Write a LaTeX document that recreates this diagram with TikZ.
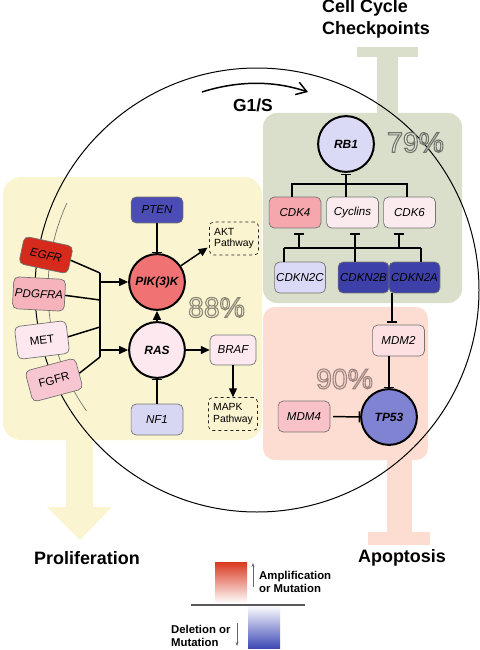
\documentclass[tikz,border=0pt]{standalone}
\usepackage{fontspec}
\setmainfont{Liberation Sans}
\usetikzlibrary{arrows.meta,calc}
\definecolor{cYel}{HTML}{FAF5D0}
\definecolor{cGrn}{HTML}{D9DFCB}
\definecolor{cPnk}{HTML}{FDDDD1}
\definecolor{cEGFR}{HTML}{D52A1C}
\definecolor{cPDGFRA}{HTML}{F6B3BC}
\definecolor{cMET}{HTML}{FCE8EE}
\definecolor{cFGFR}{HTML}{F8C6D0}
\definecolor{cPTEN}{HTML}{4B4DB4}
\definecolor{cPIK}{HTML}{F07272}
\definecolor{cRAS}{HTML}{FCE8EE}
\definecolor{cBRAF}{HTML}{FCE8EE}
\definecolor{cNF}{HTML}{D7D6F3}
\definecolor{cRB}{HTML}{DADAF7}
\definecolor{cCDKf}{HTML}{F6A7AE}
\definecolor{cCyc}{HTML}{FCEBEE}
\definecolor{cCDKs}{HTML}{FCEBEE}
\definecolor{cNtwoC}{HTML}{DADAF7}
\definecolor{cNtwoB}{HTML}{3E40A9}
\definecolor{cMDMtwo}{HTML}{FCE0E2}
\definecolor{cMDMfour}{HTML}{F8C2C8}
\definecolor{cTP}{HTML}{8082D2}
\definecolor{cLegR}{HTML}{D9381E}
\definecolor{cLegB}{HTML}{3F4BB5}
\definecolor{cInA}{HTML}{E6EADC}
\definecolor{cInB}{HTML}{F6F2DC}
\definecolor{cInC}{HTML}{F4D8D0}
% outlined text: #1 stroke colour (rgb numbers), #2 text
\newcommand{\outlinedtext}[2]{\special{pdf:literal direct 2 Tr 1.1 w #1 RG}#2\special{pdf:literal direct 0 Tr}}
\begin{document}
\begin{tikzpicture}[x=1bp,y=-1bp,
  gbox/.style={draw=black!55, line width=0.7pt, rounded corners=5pt, minimum width=52pt, minimum height=31pt, inner sep=0pt, font=\fontsize{11.6}{12}\selectfont\itshape},
  ubox/.style={gbox, font=\fontsize{11.6}{12}\selectfont},
  circ/.style={circle, draw=black, line width=2pt, minimum size=56pt, inner sep=0pt, font=\fontsize{12}{12}\selectfont\bfseries\itshape},
  pathbox/.style={draw=black!85, dashed, line width=0.7pt, rounded corners=4pt, minimum width=49pt, minimum height=33pt, inner sep=2pt, align=left, font=\fontsize{10.4}{12}\selectfont},
  title/.style={font=\fontsize{18}{22}\selectfont\bfseries, inner sep=0pt, align=left},
  legtext/.style={font=\fontsize{11.4}{13}\selectfont\bfseries, inner sep=0pt, align=left},
  pctstyle/.style={font=\fontsize{28.5}{30}\selectfont, inner sep=0pt},
  con/.style={line width=1.5pt},
  act/.style={con, -{Triangle[length=9pt,width=8pt]}},
  inh/.style={con, -{Bar[width=11pt,line width=1.5pt]}},
]
\useasboundingbox (0,0) rectangle (480,650);
% backgrounds
\fill[cYel, rounded corners=18pt] (3,177) rectangle (262,440);
\fill[cYel] (66,438) -- (93,438) -- (93,507) -- (112,507) -- (80,540) -- (47,507) -- (66,507) -- cycle;
\fill[cGrn, rounded corners=14pt] (263,113) rectangle (462,303);
\fill[cGrn] (357,47) rectangle (418,57);
\fill[cGrn] (377,56) rectangle (398,114);
\fill[cPnk, rounded corners=12pt] (263,307) rectangle (428,460);
\fill[cPnk] (387,459) rectangle (412,533);
\fill[cPnk] (368,532) rectangle (430,545);
% titles
\node[title, anchor=west] (cct) at (322,19) {Cell Cycle\\Checkpoints};
\node[title] (prol) at (87,558) {Proliferation};
\node[title] (apop) at (402,558) {Apoptosis};
\node[title, font=\fontsize{17.5}{20}\selectfont\bfseries] (g1s) at (253,105) {G1/S};
\coordinate (ga) at (202,92);
\coordinate (gb) at (308,92);
\draw[line width=1.5pt, -{Straight Barb[length=10pt,width=13pt,line width=1.5pt]}] (ga) .. controls (240,80) and (275,81) .. (gb);
% cell circle and membrane
\coordinate (cc) at (257,290);
\draw[line width=1pt] (cc) circle[radius=222];
\begin{scope}
\clip (0,203) rectangle (110,410);
\draw[black!55, line width=0.7pt] (cc) circle[radius=209];
\end{scope}
% percentages
\node[pctstyle, text=cInA] (t79) at (415.5,142.5) {\outlinedtext{0.45 0.45 0.43}{79\%}};
\node[pctstyle, text=cInB] (t88) at (216.5,307.5) {\outlinedtext{0.55 0.53 0.45}{88\%}};
\node[pctstyle, text=cInC] (t90) at (344.5,379) {\outlinedtext{0.62 0.52 0.50}{90\%}};
% left panel nodes
\node[gbox, fill=cPTEN, minimum height=26pt] (pten) at (157,210) {PTEN};
\node[circ, fill=cPIK] (pik) at (157,282) {PIK(3)K};
\node[circ, fill=cRAS] (ras) at (157,350) {RAS};
\node[pathbox] (akt) at (234,238.5) {AKT\\Pathway};
\node[gbox, fill=cBRAF, minimum width=46pt, minimum height=30pt] (braf) at (233,350) {BRAF};
\node[pathbox] (mapk) at (233,414) {MAPK\\Pathway};
\node[gbox, fill=cNF] (nf1) at (157,419.5) {NF1};
% receptors
\node[gbox, fill=cEGFR, minimum width=50pt, minimum height=28pt, rotate=-12] (egfr) at (46,255) {EGFR};
\node[gbox, fill=cPDGFRA, minimum height=32pt, rotate=-3] (pdgfra) at (39,294) {PDGFRA};
\node[ubox, fill=cMET, minimum height=33pt, rotate=7] (met) at (42,340) {MET};
\node[ubox, fill=cFGFR, minimum height=32pt, rotate=15] (fgfr) at (54,380) {FGFR};
\coordinate (b1) at (100,273);
\coordinate (b2) at (100,300);
\coordinate (b3) at (100,327);
\coordinate (b4) at (100,357);
\coordinate (bp) at (100,282);
\coordinate (br) at (100,350);
\draw[con] (egfr.east) -- (b1);
\draw[con] (pdgfra.east) -- (b2);
\draw[con] (met.east) -- (b3);
\draw[con] (fgfr.east) -- (b4);
\draw[con] (b1) -- (b4);
\draw[act] (bp) -- (pik);
\draw[act] (br) -- (ras);
\draw[inh] (pten) -- (pik);
\draw[act] (ras) -- (pik);
\draw[act, shorten >=2pt] (pik) -- ($(akt.west)+(0,8)$);
\draw[act] (ras) -- (braf);
\draw[act] (braf) -- (mapk);
\draw[inh] (nf1) -- (ras);
% green panel
\node[circ, fill=cRB] (rb1) at (346,144) {RB1};
\node[gbox, fill=cCDKf] (cdk4) at (295,212.5) {CDK4};
\node[gbox, fill=cCyc] (cyc) at (352.5,212.5) {Cyclins};
\node[gbox, fill=cCDKs] (cdk6) at (409.5,212.5) {CDK6};
\node[gbox, fill=cNtwoC, minimum width=51pt] (n2c) at (300,277.5) {CDKN2C};
\node[gbox, fill=cNtwoB, minimum width=51pt] (n2b) at (363.5,277.5) {CDKN2B};
\node[gbox, fill=cNtwoB, minimum width=51pt] (n2a) at (414.5,277.5) {CDKN2A};
\coordinate (rbj) at (346,184);
\draw[inh, shorten >=1pt] (rbj) -- (rb1);
\draw[con] (cdk4.north -| 292,0) |- (rbj) -| (cdk6.north -| 407,0);
\draw[con] (rbj) -- (rbj |- cyc.north);
\coordinate (lL) at (284,248);
\coordinate (lR) at (421,248);
\coordinate (j1) at (299,248);
\coordinate (j2) at (355,248);
\coordinate (j3) at (399,248);
\draw[con] (lL) -- (lR);
\draw[con] (lL) -- (lL |- n2c.north);
\draw[con] (j2) -- (j2 |- n2b.north);
\draw[con] (lR) -- (lR |- n2a.north);
\draw[inh, shorten >=5pt] (j1) -- (j1 |- cdk4.south);
\draw[inh, shorten >=5pt] (j2) -- (j2 |- cyc.south);
\draw[inh, shorten >=5pt] (j3) -- (j3 |- cdk6.south);
% pink panel
\node[gbox, fill=cMDMtwo] (mdm2) at (398.5,340.5) {MDM2};
\node[circ, fill=cTP] (tp53) at (389,417) {TP53};
\node[gbox, fill=cMDMfour] (mdm4) at (304,416.5) {MDM4};
\coordinate (k1) at (392,293);
\draw[inh, shorten >=2pt] (k1) -- (k1 |- mdm2.north);
\draw[inh] (mdm2.south -| tp53) -- (tp53);
\draw[inh, shorten <=3pt] (mdm4) -- (tp53);
% legend
\shade[top color=cLegR, middle color=cLegR!45!white, bottom color=white] (215,562) rectangle (247,603);
\shade[top color=white, middle color=black!35!cLegB!40!white, bottom color=cLegB] (248,605) rectangle (280,648);
\coordinate (hl) at (191,605);
\coordinate (hr) at (305,605);
\draw[black!65, line width=1.2pt] (hl) -- (hr);
\coordinate (ua) at (253,587);
\coordinate (ub) at (253,563);
\coordinate (da) at (237,623);
\coordinate (db) at (237,646);
\draw[black!60, line width=0.8pt, -{Stealth[length=4pt,width=3pt]}] (ua) -- (ub);
\draw[black!60, line width=0.8pt, -{Stealth[length=4pt,width=3pt]}] (da) -- (db);
\node[legtext, anchor=west] (amp) at (259,581.5) {Amplification\\or Mutation};
\node[legtext, anchor=west] (del) at (171,635.5) {Deletion or\\Mutation};
\end{tikzpicture}
\end{document}
